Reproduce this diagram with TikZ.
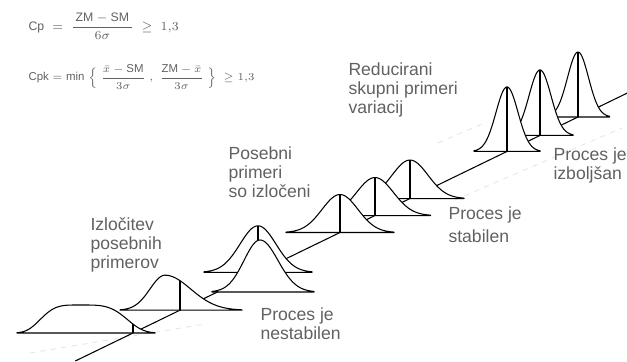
\documentclass[tikz,border=0pt]{standalone}
\usepackage{amsmath,amssymb}
\usepackage{fontspec}
\setmainfont{Liberation Sans}
\setsansfont{Liberation Sans}
\usepackage{tikz}

\begin{document}
\begin{tikzpicture}[line join=round,line width=0.6pt,
  bell/.style={fill=white},
  guide/.style={gray!20,dashed,line width=0.5pt},
  txt/.style={anchor=north west,inner sep=0pt,align=left,text=black!62,font=\fontsize{10}{11}\selectfont},
  frm/.style={anchor=west,inner sep=0pt,text=black!62,font=\fontsize{7}{8}\selectfont}]
  \useasboundingbox (0,0) rectangle (12.54,7.22);
  \coordinate (A0) at (1.506,0.000);
  \coordinate (A1) at (12.540,5.356);
  \coordinate (B1) at (2.660,0.560);
  \coordinate (B2) at (3.600,1.016);
  \coordinate (B3) at (5.160,1.774);
  \coordinate (B5) at (6.800,2.570);
  \coordinate (B6) at (7.500,2.909);
  \coordinate (B7) at (8.200,3.249);
  \coordinate (B8) at (10.140,4.191);
  \coordinate (B9) at (10.800,4.511);
  \coordinate (B10) at (11.560,4.880);
  \draw[guide] (0.600,0.160) -- (4.100,0.740);
  \draw[guide] (9.100,3.220) -- (12.440,4.660);
  \draw[guide] (8.760,4.360) -- (9.640,4.740);
  \draw (A0) -- (A1);
  \draw[bell] (10.930,4.880) -- plot[domain=10.93:12.19,samples=60] (\x,{4.880+1.30*exp(-0.5*(\x-11.56)*(\x-11.56)/0.0441)}) -- (12.190,4.880) -- cycle;
  \draw (B10) -- ++(0,1.300);
  \draw[bell] (10.140,4.511) -- plot[domain=10.14:11.46,samples=60] (\x,{4.511+1.31*exp(-0.5*(\x-10.80)*(\x-10.80)/0.0484)}) -- (11.460,4.511) -- cycle;
  \draw (B9) -- ++(0,1.310);
  \draw[bell] (9.480,4.191) -- plot[domain=9.48:10.80,samples=60] (\x,{4.191+1.29*exp(-0.5*(\x-10.14)*(\x-10.14)/0.0484)}) -- (10.800,4.191) -- cycle;
  \draw (B8) -- ++(0,1.290);
  \draw[bell] (7.120,3.249) -- plot[domain=7.12:9.28,samples=60] (\x,{3.249+0.77*exp(-0.5*(\x-8.20)*(\x-8.20)/0.1296)}) -- (9.280,3.249) -- cycle;
  \draw (B7) -- ++(0,0.770);
  \draw[bell] (6.390,2.909) -- plot[domain=6.39:8.61,samples=60] (\x,{2.909+0.76*exp(-0.5*(\x-7.50)*(\x-7.50)/0.1369)}) -- (8.610,2.909) -- cycle;
  \draw (B6) -- ++(0,0.760);
  \draw[bell] (5.720,2.570) -- plot[domain=5.72:7.88,samples=60] (\x,{2.570+0.76*exp(-0.5*(\x-6.80)*(\x-6.80)/0.1296)}) -- (7.880,2.570) -- cycle;
  \draw (B5) -- ++(0,0.760);
  \draw[bell] (4.080,1.774) -- plot[domain=4.08:6.24,samples=60] (\x,{1.774+0.93*exp(-0.5*(\x-5.16)*(\x-5.16)/0.1296)}) -- (6.240,1.774) -- cycle;
  \draw (B3) -- ++(0,0.930);
  \draw[bell] (4.240,1.380) -- plot[domain=4.24:5.20,samples=40] (\x,{1.380+1.04*exp(-0.5*(\x-5.20)*(\x-5.20)/0.1024)}) -- plot[domain=5.20:6.28,samples=40] (\x,{1.380+1.04*exp(-0.5*(\x-5.20)*(\x-5.20)/0.1296)}) -- (6.280,1.380) -- cycle;
  \draw[bell] (2.400,1.016) -- plot[domain=2.40:3.30,samples=40] (\x,{1.016+0.70*exp(-0.5*(\x-3.30)*(\x-3.30)/0.0900)}) -- plot[domain=3.30:4.84,samples=50] (\x,{1.016+0.70*exp(-0.5*(\x-3.30)*(\x-3.30)/0.2630)}) -- (4.840,1.016) -- cycle;
  \draw (B2) -- ++(0,0.590);
  \draw[bell] (0.340,0.560) -- plot[domain=0.34:1.60,samples=40] (\x,{0.560+0.56*exp(-0.5*((\x-1.60)*(\x-1.60)/0.524)^2)}) -- plot[domain=1.60:3.10,samples=50] (\x,{0.560+0.56*exp(-0.5*((\x-1.60)*(\x-1.60)/0.743)^2)}) -- (3.100,0.560) -- cycle;
  \draw (B1) -- ++(0,0.179);
  \node[frm] (fCp) at (0.560,6.700) {$\mathsf{Cp}\;=\;\dfrac{\,\mathsf{ZM-SM}\,}{6\sigma}\;\geq\;1{,}3$};
  \node[frm,font=\fontsize{6.5}{7.5}\selectfont] (fCpk) at (0.560,5.680) {$\mathsf{Cpk}=\mathsf{min}\;\Big\{\;\dfrac{\bar{x}-\mathsf{SM}}{3\sigma}\;,\;\dfrac{\mathsf{ZM}-\bar{x}}{3\sigma}\;\Big\}\;\geq 1{,}3$};
  \node[txt] (lIzl) at (1.800,2.880) {Izločitev\\posebnih\\primerov};
  \node[txt] (lPos) at (4.560,4.300) {Posebni\\primeri\\so izločeni};
  \node[txt] (lRed) at (6.960,5.980) {Reducirani\\skupni primeri\\variacij};
  \node[txt] (lNest) at (5.200,1.080) {Proces je\\nestabilen};
  \node[txt,font=\fontsize{10}{13}\selectfont] (lStab) at (8.960,3.100) {Proces je\\stabilen};
  \node[txt] (lIzb) at (11.060,4.280) {Proces je\\izboljšan};
\end{tikzpicture}
\end{document}
